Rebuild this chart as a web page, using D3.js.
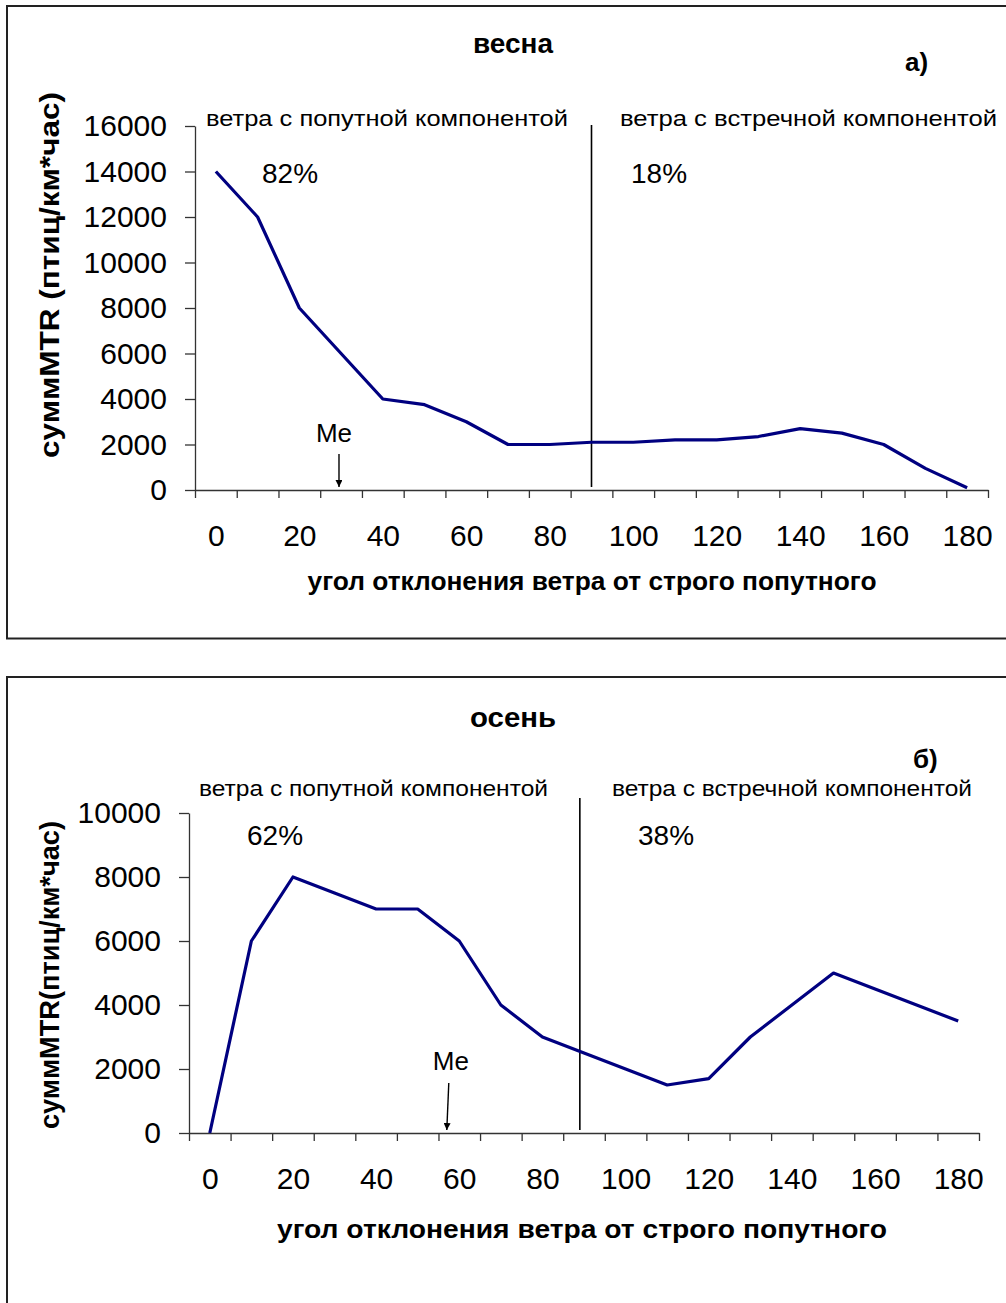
<!DOCTYPE html>
<html>
<head>
<meta charset="utf-8">
<script src="https://cdn.jsdelivr.net/npm/d3@7"></script>
<style>
  html, body { margin: 0; padding: 0; background: #fff; }
  svg { display: block; }
  text { font-family: "Liberation Sans", Arial, sans-serif; fill: #000; }
</style>
</head>
<body>
<svg id="chart" width="1006" height="1303"></svg>
<script>
// Wind angle categories (degrees from a pure tailwind)
const angles = [0, 10, 20, 30, 40, 50, 60, 70, 80, 90, 100, 110, 120, 130, 140, 150, 160, 170, 180];

// Summed migration traffic rate, birds/km*hour
const springMTR = [14000, 12000, 8000, 6000, 4000, 3750, 3000, 2000, 2000, 2100, 2100, 2200, 2200, 2350, 2700, 2500, 2000, 950, 100];
const autumnMTR = [0, 6000, 8000, 7500, 7000, 7000, 6000, 4000, 3000, 2500, 2000, 1500, 1700, 3000, 4000, 5000, 4500, 4000, 3500];

// Axis tick labels
const xTickLabels = [0, 20, 40, 60, 80, 100, 120, 140, 160, 180];
const springYTicks = [0, 2000, 4000, 6000, 8000, 10000, 12000, 14000, 16000];
const autumnYTicks = [0, 2000, 4000, 6000, 8000, 10000];

// Shares of tailwind / headwind traffic and the median angle
const springShares = ["82%", "18%"];
const autumnShares = ["62%", "38%"];
const springMedian = 29.5;
const autumnMedian = 57;
const springDivider = 90;
const autumnDivider = 89;

const headerLeft = "ветра с попутной компонентой";
const headerRight = "ветра с встречной компонентой";
const xTitle = "угол отклонения ветра от строго попутного";

const svg = d3.select("#chart");

const defs = svg.append("defs");
defs.append("marker")
  .attr("id", "arrowHead")
  .attr("viewBox", "0 0 10 10")
  .attr("refX", 10).attr("refY", 5)
  .attr("markerWidth", 7).attr("markerHeight", 7)
  .attr("markerUnits", "userSpaceOnUse")
  .attr("orient", "auto")
  .append("path")
  .attr("d", "M0,0 L10,5 L0,10 Z")
  .attr("fill", "#000");

function drawPanel(cfg) {
  const g = svg.append("g");

  // outer frame
  g.append("rect")
    .attr("x", cfg.frame[0]).attr("y", cfg.frame[1])
    .attr("width", cfg.frame[2]).attr("height", cfg.frame[3])
    .attr("fill", "none").attr("stroke", "#222").attr("stroke-width", 2);

  // x: category edges sit at 5, 15, ... so every angle is centred in its slot
  const x = d3.scaleLinear().domain([-5, 185]).range([cfg.left, cfg.right]);
  const y = d3.scaleLinear().domain([0, cfg.yMax]).range([cfg.bottom, cfg.top]);

  // y axis
  const yAxis = g.append("g")
    .attr("transform", `translate(${cfg.left},0)`)
    .call(d3.axisLeft(y).tickValues(cfg.yTicks).tickFormat(d3.format("d"))
      .tickSize(10).tickPadding(18).tickSizeOuter(0));
  yAxis.selectAll("text").attr("font-size", 30).attr("font-family", "Liberation Sans, Arial, sans-serif");
  yAxis.select(".domain").attr("stroke", "#333").attr("stroke-width", 1.3);
  yAxis.selectAll(".tick line").attr("stroke", "#333").attr("stroke-width", 1.3);

  // x axis: tick marks between categories
  const edges = d3.range(-5, 186, 10);
  const xAxis = g.append("g")
    .attr("transform", `translate(0,${cfg.bottom})`)
    .call(d3.axisBottom(x).tickValues(edges).tickSize(8).tickSizeOuter(0).tickFormat(""));
  xAxis.select(".domain").attr("stroke", "#333").attr("stroke-width", 1.5);
  xAxis.selectAll(".tick line").attr("stroke", "#333").attr("stroke-width", 1.3);

  // x axis labels
  const xLab = g.append("g")
    .attr("transform", `translate(0,${cfg.bottom})`)
    .call(d3.axisBottom(x).tickValues(xTickLabels).tickFormat(d3.format("d"))
      .tickSize(0).tickPadding(35));
  xLab.select(".domain").remove();
  xLab.selectAll("text").attr("font-size", 30).attr("font-family", "Liberation Sans, Arial, sans-serif");

  // divider between tailwind and headwind sectors
  g.append("line")
    .attr("x1", x(cfg.divider)).attr("x2", x(cfg.divider))
    .attr("y1", cfg.top - cfg.dividerTopPad).attr("y2", cfg.bottom - 3)
    .attr("stroke", "#000").attr("stroke-width", 1.6);

  // data line
  const line = d3.line()
    .x((d, i) => x(angles[i]))
    .y(d => y(d));
  g.append("path")
    .datum(cfg.values)
    .attr("d", line)
    .attr("fill", "none")
    .attr("stroke", "#000080")
    .attr("stroke-width", 3.2)
    .attr("stroke-linejoin", "round");

  // median marker
  g.append("line")
    .attr("x1", x(cfg.median) + cfg.arrowLean).attr("y1", cfg.bottom - cfg.arrowTop)
    .attr("x2", x(cfg.median)).attr("y2", cfg.bottom - 3)
    .attr("stroke", "#000").attr("stroke-width", 1.4)
    .attr("marker-end", "url(#arrowHead)");
  g.append("text")
    .attr("x", x(cfg.median) + cfg.meShift).attr("y", cfg.bottom - cfg.meRise)
    .attr("text-anchor", "middle").attr("font-size", 26)
    .text("Me");

  // headers and shares
  g.append("text")
    .attr("x", cfg.hdrL[0]).attr("y", cfg.hdrL[1])
    .attr("font-size", 22).attr("textLength", cfg.hdrL[2]).attr("lengthAdjust", "spacingAndGlyphs")
    .text(headerLeft);
  g.append("text")
    .attr("x", cfg.hdrR[0]).attr("y", cfg.hdrR[1])
    .attr("font-size", 22).attr("textLength", cfg.hdrR[2]).attr("lengthAdjust", "spacingAndGlyphs")
    .text(headerRight);
  g.append("text")
    .attr("x", cfg.pctL[0]).attr("y", cfg.pctL[1])
    .attr("font-size", 28).text(cfg.shares[0]);
  g.append("text")
    .attr("x", cfg.pctR[0]).attr("y", cfg.pctR[1])
    .attr("font-size", 28).text(cfg.shares[1]);

  // title and panel letter
  g.append("text")
    .attr("x", cfg.title[0]).attr("y", cfg.title[1])
    .attr("text-anchor", "middle").attr("font-size", 27).attr("font-weight", "bold")
    .attr("textLength", cfg.title[2]).attr("lengthAdjust", "spacingAndGlyphs")
    .text(cfg.titleText);
  g.append("text")
    .attr("x", cfg.letter[0]).attr("y", cfg.letter[1])
    .attr("font-size", 26).attr("font-weight", "bold")
    .text(cfg.letterText);

  // axis titles
  g.append("text")
    .attr("x", cfg.xTitle[0]).attr("y", cfg.xTitle[1])
    .attr("text-anchor", "middle").attr("font-size", 25).attr("font-weight", "bold")
    .attr("textLength", cfg.xTitle[2]).attr("lengthAdjust", "spacingAndGlyphs")
    .text(xTitle);
  g.append("text")
    .attr("transform", `translate(${cfg.yTitle[0]},${cfg.yTitle[1]}) rotate(-90)`)
    .attr("text-anchor", "middle").attr("font-size", 28).attr("font-weight", "bold")
    .attr("textLength", cfg.yTitle[2]).attr("lengthAdjust", "spacingAndGlyphs")
    .text(cfg.yTitleText);
}

drawPanel({
  frame: [7, 6, 1010, 632.5],
  left: 195, right: 988, top: 126, bottom: 490, yMax: 16000,
  yTicks: springYTicks, values: springMTR,
  divider: springDivider, dividerTopPad: 1,
  median: springMedian, arrowTop: 36, arrowLean: 0, meShift: -5, meRise: 48,
  hdrL: [206, 126, 362], hdrR: [620, 126, 377],
  pctL: [262, 183], pctR: [631, 183], shares: springShares,
  title: [513, 53, 80], titleText: "весна",
  letter: [905, 71], letterText: "а)",
  xTitle: [592, 590, 569],
  yTitle: [59, 275, 366], yTitleText: "суммMTR (птиц/км*час)"
});

drawPanel({
  frame: [7, 677, 1010, 700],
  left: 189, right: 979, top: 813, bottom: 1133, yMax: 10000,
  yTicks: autumnYTicks, values: autumnMTR,
  divider: autumnDivider, dividerTopPad: 15,
  median: autumnMedian, arrowTop: 50, arrowLean: 2, meShift: 4, meRise: 63,
  hdrL: [199, 796, 349], hdrR: [612, 796, 360],
  pctL: [247, 845], pctR: [638, 845], shares: autumnShares,
  title: [513, 727, 86], titleText: "осень",
  letter: [913, 768], letterText: "б)",
  xTitle: [582, 1238, 610],
  yTitle: [59, 975, 308], yTitleText: "суммMTR(птиц/км*час)"
});
</script>
</body>
</html>
